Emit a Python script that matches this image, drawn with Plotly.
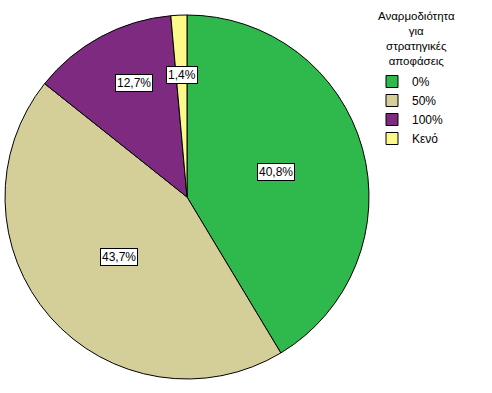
import numpy as np
import plotly.graph_objects as go

categories = ["0%", "50%", "100%", "Κενό"]
values = [40.8, 43.7, 12.7, 1.4]
label_texts = ["40,8%", "43,7%", "12,7%", "1,4%"]
colors = ["#2fb84c", "#d4cf98", "#7d2a80", "#fbf98a"]
legend_title = "Αναρμοδιότητα<br>για<br>στρατηγικές<br>αποφάσεις"

W, H = 492, 393
FONT = "Liberation Sans, Arial, sans-serif"

# pie geometry (px)
cx_px, cy_px, R_px = 187, 197, 182
dom_x = [(cx_px - R_px) / W, (cx_px + R_px) / W]
dom_y = [(H - cy_px - R_px) / H, (H - cy_px + R_px) / H]

fig = go.Figure(go.Pie(
    labels=categories,
    values=values,
    marker=dict(colors=colors, line=dict(color="black", width=1)),
    sort=False,
    direction="clockwise",
    rotation=0,
    textinfo="none",
    hoverinfo="label+percent",
    domain=dict(x=dom_x, y=dom_y),
))

# label annotations at slice mid-angles (derived from values)
label_r = [0.51, 0.50, 0.69, 0.67]
label_dtheta_deg = [0, 0, 3.5, 0]
vals = np.array(values, dtype=float)
frac = vals / vals.sum()
mid = (np.cumsum(frac) - frac / 2) * 2 * np.pi + np.radians(label_dtheta_deg)
xc = (dom_x[0] + dom_x[1]) / 2
yc = (dom_y[0] + dom_y[1]) / 2
annotations = []
for t, a, rf in zip(label_texts, mid, label_r):
    annotations.append(dict(
        x=xc + rf * R_px * np.sin(a) / W,
        y=yc + rf * R_px * np.cos(a) / H,
        xref="paper", yref="paper", xanchor="center", yanchor="middle",
        text=t, showarrow=False,
        font=dict(family=FONT, size=12, color="black"),
        bgcolor="white", bordercolor="black", borderwidth=1, borderpad=1,
    ))

annotations.append(dict(
    x=416 / W, y=1 - 8 / H, xref="paper", yref="paper",
    xanchor="center", yanchor="top", text=legend_title, showarrow=False,
    align="center", font=dict(family=FONT, size=11.5, color="black"),
))

fig.update_layout(
    width=W, height=H,
    margin=dict(l=0, r=0, t=0, b=0),
    paper_bgcolor="white", plot_bgcolor="white",
    showlegend=True,
    legend=dict(
        x=372 / W, y=1 - 67 / H, xanchor="left", yanchor="top",
        font=dict(family=FONT, size=12, color="black"),
        bgcolor="rgba(0,0,0,0)", itemwidth=30,
    ),
    annotations=annotations,
)

fig.write_html("out.html", config={"displayModeBar": False},
               post_script="document.body.style.margin='0';document.body.style.padding='0';")
